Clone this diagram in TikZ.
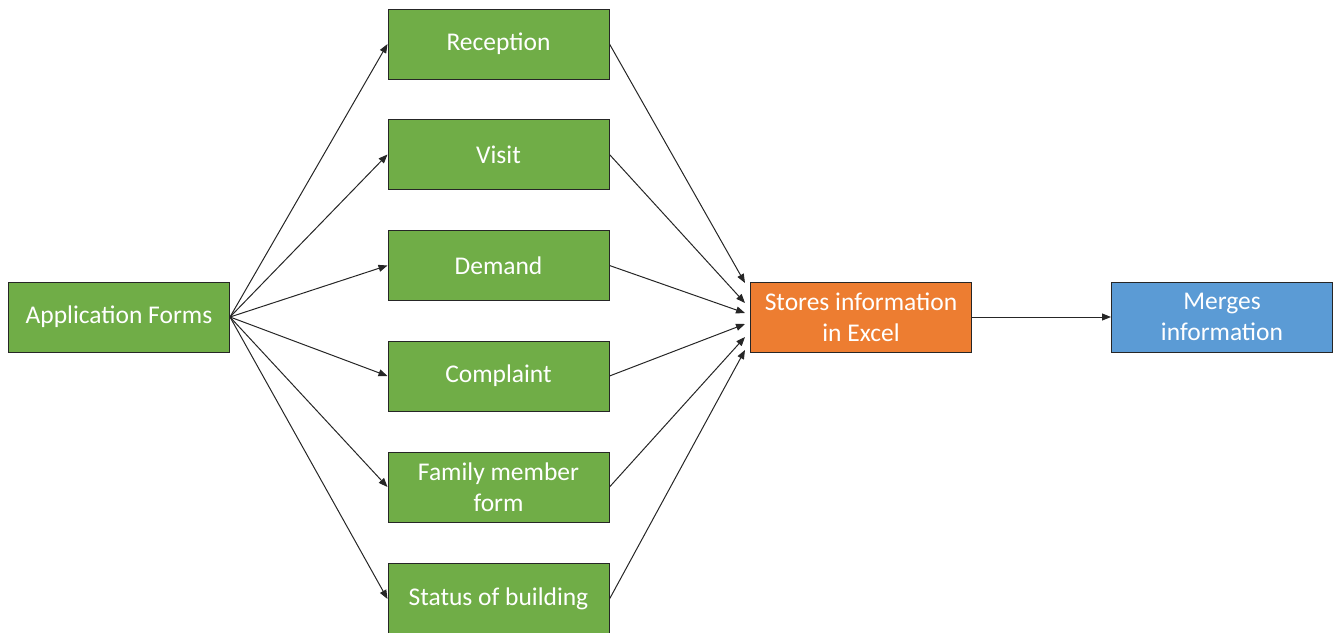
\documentclass[tikz,border=0pt]{standalone}
\usepackage{fontspec}
\setmainfont{Carlito}
\usetikzlibrary{arrows.meta,calc}
\definecolor{bgreen}{HTML}{70AD47}
\definecolor{borange}{HTML}{ED7D31}
\definecolor{bblue}{HTML}{5B9BD5}
\definecolor{edgec}{HTML}{262626}
\begin{document}
\begin{tikzpicture}[x=1pt,y=-1pt,
  box/.style={draw=edgec, line width=1pt, minimum width=221pt, minimum height=70pt,
    text=white, font=\fontsize{25.5}{31}\selectfont, align=center, inner sep=0pt},
  conn/.style={draw=edgec, line width=1pt, -{Triangle[length=9pt,width=7pt]}}]
\useasboundingbox (0,0) rectangle (1333,632);
\node[box, fill=bgreen] (app) at (119,317) {Application Forms};
\node[box, fill=bgreen] (rec) at (498.5,44) {Reception};
\node[box, fill=bgreen] (vis) at (498.5,154.5) {Visit};
\node[box, fill=bgreen] (dem) at (498.5,265.5) {Demand};
\node[box, fill=bgreen] (com) at (498.5,376) {Complaint};
\node[box, fill=bgreen] (fam) at (498.5,487) {Family member\\form};
\node[box, fill=bgreen, minimum height=72pt] (sta) at (498.5,599) {Status of building};
\node[box, fill=borange] (st) at (861,317) {Stores information\\in Excel};
\node[box, fill=bblue] (mg) at (1222,317) {Merges\\information};
\foreach \n in {rec,vis,dem,com,fam,sta} \draw[conn] (app.east) -- (\n.west);
\draw[conn] (rec.east) -- ($(st.west)+(-5,-34)$);
\draw[conn] (vis.east) -- ($(st.west)+(-5,-14)$);
\draw[conn] (dem.east) -- ($(st.west)+(-5,-4)$);
\draw[conn] (com.east) -- ($(st.west)+(-5,7)$);
\draw[conn] (fam.east) -- ($(st.west)+(-5,20)$);
\draw[conn] (sta.east) -- ($(st.west)+(-5,33)$);
\draw[conn] (st.east) -- (mg.west);
\end{tikzpicture}
\end{document}
